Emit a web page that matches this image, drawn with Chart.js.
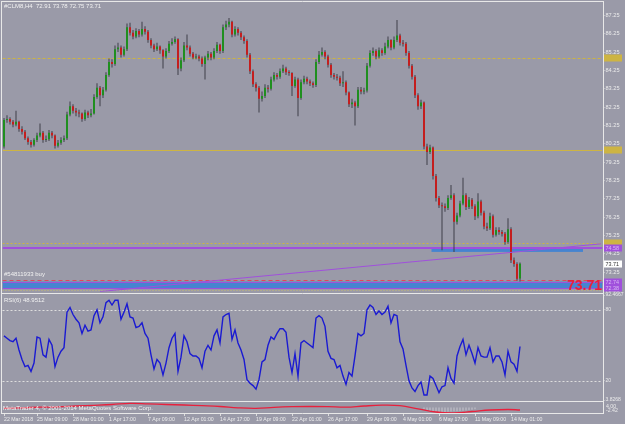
<!DOCTYPE html>
<html><head><meta charset="utf-8">
<script src="https://cdn.jsdelivr.net/npm/chart.js@4.4.1/dist/chart.umd.min.js"></script>
<style>
html,body{margin:0;padding:0;}
body{width:625px;height:424px;overflow:hidden;position:relative;background:#9a9aa8;font-family:"Liberation Sans",Arial,sans-serif;}
canvas{position:absolute;left:0;}
.lbl{position:absolute;color:#f2f2f2;font-size:6px;line-height:6px;white-space:pre;}
</style></head><body>
<canvas id="cPrice" width="625" height="296" style="top:0"></canvas>
<canvas id="cRsi" width="625" height="116" style="top:288px"></canvas>
<canvas id="cOsc" width="625" height="24" style="top:400px"></canvas>
<div class="lbl" style="left:4px;top:3px">#CLM8,H4  72.91 73.78 72.75 73.71</div>
<div class="lbl" style="left:4px;top:271px">#54811933 buy</div>
<div class="lbl" style="left:4px;top:297px">RSI(6) 48.9512</div>
<div class="lbl" style="left:3px;top:405px">MetaTrader 4, © 2001-2014 MetaQuotes Software Corp.</div>
<script>
// ---------- DATA ----------
const tickLabels = ['22 Mar 2018','25 Mar 09:00','28 Mar 01:00','1 Apr 17:00','7 Apr 09:00','12 Apr 01:00','14 Apr 17:00','19 Apr 09:00','22 Apr 01:00','26 Apr 17:00','29 Apr 09:00','4 May 01:00','6 May 17:00','11 May 09:00','14 May 01:00'];
const tickBars = [0,11,23,35,48,60,72,84,96,108,121,133,145,157,169];

const opens = [80.10,81.55,81.60,81.45,81.30,81.45,81.05,80.90,80.55,80.35,
80.20,80.45,80.70,80.85,80.45,80.50,80.85,80.70,80.15,80.30,
80.45,80.55,81.85,82.30,82.05,81.95,81.90,81.60,81.95,81.80,
81.90,82.80,83.30,82.90,83.20,84.00,84.70,84.60,85.40,85.50,
85.10,85.40,86.60,86.30,86.10,86.40,86.20,86.50,86.35,85.90,
85.60,85.40,85.55,85.35,85.00,85.30,85.70,85.80,85.95,84.35,
84.80,85.60,85.50,85.15,84.95,85.00,84.90,84.60,84.95,85.15,
84.95,85.30,85.65,85.30,86.60,86.75,86.90,86.20,86.50,86.30,
86.05,85.85,85.10,84.20,83.50,83.30,82.70,82.85,83.30,83.25,
83.75,84.00,83.90,84.20,84.35,84.15,84.10,83.40,83.75,82.75,
83.60,83.80,83.65,83.55,83.45,84.70,85.10,85.25,85.00,84.55,
84.00,83.90,83.85,83.55,83.60,83.05,82.40,82.50,82.30,83.20,
83.10,83.15,84.50,85.20,85.30,85.00,85.35,85.20,85.55,85.90,
85.50,85.90,86.15,85.75,85.70,85.20,84.50,83.90,82.90,82.30,
82.50,80.10,79.80,80.05,78.50,77.30,76.90,76.85,76.75,77.30,
77.45,76.00,76.35,77.00,77.45,76.80,77.20,76.85,76.30,77.10,
76.50,75.75,75.65,76.30,75.30,75.55,75.45,75.35,74.90,75.60,
73.90,73.70,72.91];

const closes = [81.55,81.60,81.45,81.30,81.45,81.05,80.90,80.55,80.35,80.20,
80.45,80.70,80.85,80.45,80.50,80.85,80.70,80.15,80.30,80.45,
80.55,81.85,82.30,82.05,81.95,81.90,81.60,81.95,81.80,81.90,
82.80,83.30,82.90,83.20,84.00,84.70,84.60,85.40,85.50,85.10,
85.40,86.60,86.30,86.10,86.40,86.20,86.50,86.35,85.90,85.60,
85.40,85.55,85.35,85.00,85.30,85.70,85.80,85.95,84.35,84.80,
85.60,85.50,85.15,84.95,85.00,84.90,84.60,84.95,85.15,84.95,
85.30,85.65,85.30,86.60,86.75,86.90,86.20,86.50,86.30,86.05,
85.85,85.10,84.20,83.50,83.30,82.70,82.85,83.30,83.25,83.75,
84.00,83.90,84.20,84.35,84.15,84.10,83.40,83.75,82.75,83.60,
83.80,83.65,83.55,83.45,84.70,85.10,85.25,85.00,84.55,84.00,
83.90,83.85,83.55,83.60,83.05,82.40,82.50,82.30,83.20,83.10,
83.15,84.50,85.20,85.30,85.00,85.35,85.20,85.55,85.90,85.50,
85.90,86.15,85.75,85.70,85.20,84.50,83.90,82.90,82.30,82.50,
80.10,79.80,80.05,78.50,77.30,76.90,76.85,76.75,77.30,77.45,
76.00,76.35,77.00,77.45,76.80,77.20,76.85,76.30,77.10,76.50,
75.75,75.65,76.30,75.30,75.55,75.45,75.35,74.90,75.60,73.90,
73.70,72.90,73.71];

const highs = [81.65,81.80,81.70,81.55,82.05,81.50,81.20,81.00,80.65,80.45,
80.55,80.85,81.35,80.95,80.70,81.00,80.95,80.75,80.45,80.60,
80.70,82.00,82.55,82.40,82.20,82.10,81.95,82.10,82.05,82.15,
82.95,83.55,83.40,83.35,84.15,84.90,84.85,85.60,85.75,85.60,
85.55,86.80,86.85,86.45,86.55,86.50,86.90,86.65,86.45,86.00,
85.70,85.75,85.60,85.40,85.45,85.85,86.00,86.10,86.00,84.95,
85.80,86.20,85.60,85.25,85.15,85.10,85.00,85.05,85.30,85.25,
85.45,85.80,85.70,86.75,86.95,87.10,86.95,86.65,86.60,86.40,
86.15,85.95,85.20,84.30,83.60,83.40,83.10,83.50,83.45,83.90,
84.15,84.10,84.35,84.55,84.45,84.25,84.15,83.90,83.85,83.75,
83.95,83.90,83.75,83.65,84.85,85.30,85.50,85.35,85.10,84.65,
84.10,84.05,83.95,84.20,83.70,83.10,82.70,82.60,83.35,83.35,
83.30,84.65,85.35,85.50,85.40,85.50,85.45,85.75,86.10,85.95,
86.10,87.00,86.25,85.90,85.80,85.30,84.60,84.00,83.00,82.65,
82.55,80.25,80.20,80.10,78.60,77.40,77.05,77.00,77.45,78.00,
77.55,76.50,77.15,78.40,77.55,77.35,77.30,76.95,77.55,77.20,
76.60,75.95,76.50,76.40,75.70,75.70,75.55,75.45,76.20,75.70,
74.05,73.80,73.78];

const lows = [80.00,81.40,81.30,81.15,81.20,80.90,80.75,80.45,80.20,80.05,
80.10,80.35,80.60,80.30,80.35,80.40,80.55,80.00,80.05,80.20,
80.35,80.45,81.75,81.90,81.75,81.70,81.45,81.50,81.65,81.70,
81.85,82.70,82.30,82.75,83.10,83.90,84.40,84.50,85.25,84.95,
85.00,85.30,86.15,85.95,86.00,86.05,86.10,86.20,85.75,85.45,
85.25,85.30,85.15,84.35,84.90,85.20,85.60,85.70,84.00,84.20,
84.70,85.35,85.00,84.85,84.85,84.75,84.45,83.75,84.80,84.80,
84.85,85.20,85.15,85.20,86.45,86.60,86.05,86.10,86.15,85.90,
85.70,84.95,84.05,83.35,83.10,81.95,82.55,82.75,83.05,83.15,
83.65,83.75,83.80,84.10,84.00,83.95,82.85,83.30,81.75,82.65,
83.50,83.50,83.40,83.30,83.35,84.60,85.00,84.85,84.40,83.85,
83.75,83.70,83.40,83.35,82.90,82.25,82.20,81.25,82.20,82.95,
82.95,83.05,84.40,85.05,84.85,84.90,85.05,85.10,85.45,85.35,
85.40,85.80,85.60,85.55,85.05,84.35,83.75,82.75,82.10,82.15,
79.95,79.10,79.70,78.30,77.10,76.75,74.45,76.55,76.65,77.20,
74.35,75.85,76.25,76.90,76.65,76.70,76.70,76.10,76.20,76.35,
75.60,75.50,75.55,75.15,75.20,75.30,75.20,74.75,74.80,73.75,
73.55,72.80,72.75];

const rsi = [58,56,54,53,56,46,38,32,33,28,
35,57,56,42,40,55,50,32,40,45,
48,78,82,76,72,69,60,67,62,63,
75,80,69,74,86,88,84,88,88,72,
78,85,74,73,65,66,69,60,56,42,
30,38,35,25,35,48,56,60,28,40,
58,53,43,41,41,39,31,45,50,46,
58,63,52,74,76,77,55,63,52,46,
38,21,18,16,13,21,36,38,50,57,
55,60,64,64,61,40,27,43,24,52,
54,52,50,48,73,75,73,66,45,39,
38,31,33,24,17,27,24,41,60,58,
60,80,84,82,76,79,76,78,83,69,
76,75,53,47,33,20,14,11,16,19,
8,8,24,22,16,10,15,16,31,22,
18,41,49,55,42,50,43,35,48,41,
40,40,48,36,41,41,36,25,45,36,
34,28,49];

const priceTicks = [87.25,86.25,85.25,84.25,83.25,82.25,81.25,80.25,79.25,78.25,77.25,76.25,75.25,74.25,73.25,72.25];
const rsiTicks = [92.4667, 80, 20, 3.8268];
const rsiLevels = [80, 20];

// chart objects (price levels)
const yellowDashed = 84.90, yellowSolid = 79.90, yellowDotted = 74.85, purpleLevel = 74.58;
const orderPrice = 72.85, bandTop = 72.74, bandBottom = 72.38, bottomDotted = 72.27;
const rectBars = [142.5, 193], rectPrices = [74.56, 74.36];
const trendBars = [32, 199], trendPrices = [72.20, 74.80];

// lower oscillator panel
const oscBars = [0,6,12,18,24,30,36,42,48,54,60,66,72,78,84,90,96,102,108,114,120,126,132,138,144,150,156,162,168,172];
const oscValues = [-0.44,-0.16,0.16,0.38,0.82,1.2,1.64,2.29,2.02,1.64,1.36,0.98,0.55,-0.16,-0.44,0.11,0.44,0.55,0.44,0.16,0.82,1.25,0.98,-0.71,-2.45,-2.9,-2.18,-1.36,-1.09,-1.36];
const histBars = [140,141,142,143,144,145,146,147,148,149,150,151,152,153,154,155,156,157];
const histValues = [-0.8,-1.4,-1.8,-2.1,-2.3,-2.4,-2.4,-2.4,-2.3,-2.2,-2.1,-2.0,-1.9,-1.8,-1.6,-1.4,-1.2,-1.0];
const oscLabels = ['4.00', '-2.42'];

// ---------- STYLE ----------
const SLOTS = 200;
const GREEN = '#1f8f1f', RED = '#c41e1e', WICK = '#3e3e48';
const YELLOW = '#cdb443', PURPLE = '#a050dc', BLUE = '#4684d0', REDDASH = '#e04858';
const FRAME = '#e8e8e8', TXT = '#ececec', RSIBLUE = '#1a1ad2', OSCRED = '#e8203c';
const FONT = '"Liberation Sans", Arial, sans-serif';
Chart.defaults.font.family = FONT;
Chart.defaults.color = TXT;

const N = closes.length;
const cats = Array.from({length: SLOTS}, (_, i) => { const k = tickBars.indexOf(i); return k >= 0 ? tickLabels[k] : ''; });
const fullArr = (bars, vals) => { const a = new Array(SLOTS).fill(null); bars.forEach((b, k) => a[b] = vals[k]); return a; };
const base = { responsive: false, animation: false, events: [], plugins: { legend: { display: false }, tooltip: { enabled: false } } };

function hline(ctx, a, y, color, width, dash) {
  ctx.save(); ctx.strokeStyle = color; ctx.lineWidth = width; ctx.setLineDash(dash || []);
  const yy = Math.round(y) + (width % 2 === 1 ? 0.5 : 0);
  ctx.beginPath(); ctx.moveTo(a.left, yy); ctx.lineTo(a.right, yy); ctx.stroke(); ctx.restore();
}
function seg(ctx, x1, y1, x2, y2) { ctx.beginPath(); ctx.moveTo(x1, y1); ctx.lineTo(x2, y2); ctx.stroke(); }

const pricePlugin = {
  id: 'priceDeco',
  beforeDatasetsDraw(chart) {
    const { ctx, chartArea: a, scales: { x, y } } = chart;
    ctx.save();
    ctx.beginPath(); ctx.rect(a.left, a.top, a.right - a.left, a.bottom - a.top); ctx.clip();
    ctx.fillStyle = BLUE;
    const b1 = y.getPixelForValue(bandTop), b2 = y.getPixelForValue(bandBottom);
    ctx.fillRect(a.left, b1, a.right - a.left, b2 - b1);
    const rx1 = x.getPixelForValue(rectBars[0]), rx2 = x.getPixelForValue(rectBars[1]);
    const ry1 = y.getPixelForValue(rectPrices[0]), ry2 = y.getPixelForValue(rectPrices[1]);
    ctx.fillRect(rx1, ry1, rx2 - rx1, ry2 - ry1);
    hline(ctx, a, y.getPixelForValue(yellowDashed), YELLOW, 1, [3, 2]);
    hline(ctx, a, y.getPixelForValue(yellowSolid), YELLOW, 1, []);
    hline(ctx, a, y.getPixelForValue(yellowDotted), YELLOW, 1, [2, 2]);
    hline(ctx, a, y.getPixelForValue(purpleLevel), PURPLE, 2, []);
    hline(ctx, a, y.getPixelForValue(orderPrice), REDDASH, 1, [4, 3]);
    hline(ctx, a, y.getPixelForValue(bandTop), PURPLE, 1, []);
    hline(ctx, a, y.getPixelForValue(bandBottom), PURPLE, 1, []);
    hline(ctx, a, y.getPixelForValue(bottomDotted), '#c8bc70', 1, [1, 2]);
    ctx.restore();
  },
  afterDraw(chart) {
    const { ctx, scales: { y } } = chart;
    ctx.save();
    ctx.strokeStyle = FRAME; ctx.lineWidth = 1;
    seg(ctx, 1, 1.5, 604, 1.5);
    seg(ctx, 1.5, 1, 1.5, 296);
    seg(ctx, 603.5, 1, 603.5, 296);
    const boxes = [
      [yellowDashed, YELLOW, '', ''],
      [yellowSolid, YELLOW, '', ''],
      [yellowDotted, YELLOW, '', ''],
      [purpleLevel, PURPLE, purpleLevel.toFixed(2), '#d8b8f4'],
      [closes[N - 1], '#ffffff', closes[N - 1].toFixed(2), '#333333'],
      [bandTop, PURPLE, bandTop.toFixed(2), '#d8b8f4'],
      [bandBottom, PURPLE, bandBottom.toFixed(2), '#d8b8f4']
    ];
    ctx.font = '5.4px ' + FONT; ctx.textBaseline = 'middle'; ctx.textAlign = 'left';
    boxes.forEach(([p, fill, t, tc]) => {
      const yy = Math.round(y.getPixelForValue(p));
      ctx.fillStyle = fill; ctx.fillRect(604, yy - 3.5, 18, 7);
      if (t) { ctx.fillStyle = tc; ctx.fillText(t, 605.5, yy + 0.5); }
    });
    ctx.font = 'bold 14px ' + FONT; ctx.fillStyle = '#e8203a'; ctx.textAlign = 'right'; ctx.textBaseline = 'alphabetic';
    ctx.fillText(closes[N - 1].toFixed(2), 602, 289.5);
    ctx.restore();
  }
};

new Chart(document.getElementById('cPrice'), {
  type: 'bar',
  data: { labels: cats, datasets: [
    { type: 'line', data: fullArr(trendBars, trendPrices), borderColor: PURPLE, borderWidth: 1, pointRadius: 0, spanGaps: true, order: 0 },
    { data: opens.map((o, i) => [o, closes[i]]), backgroundColor: closes.map((c, i) => c >= opens[i] ? GREEN : RED), barThickness: 2, grouped: false, minBarLength: 1, inflateAmount: 0, order: 1 },
    { data: lows.map((l, i) => [l, highs[i]]), backgroundColor: WICK, barThickness: 1, grouped: false, inflateAmount: 0, order: 2 }
  ] },
  options: { ...base,
    layout: { padding: { left: 2.5, top: 3, right: 0, bottom: 4 } },
    scales: {
      x: { display: false, offset: true },
      y: { position: 'right', min: 72.1958, max: 87.8457,
        afterFit(s) { s.width = 22.5; },
        afterBuildTicks(s) { s.ticks = priceTicks.map(v => ({ value: v })); },
        ticks: { font: { size: 5.6 }, color: TXT, padding: 1, callback: v => Number(v).toFixed(2) },
        grid: { drawOnChartArea: false, tickLength: 2, color: '#dcdcdc' }, border: { display: false } }
    } },
  plugins: [pricePlugin]
});

const rsiPlugin = {
  id: 'rsiDeco',
  beforeDatasetsDraw(chart) {
    const { ctx, chartArea: a, scales: { y } } = chart;
    rsiLevels.forEach(l => hline(ctx, a, y.getPixelForValue(l), '#dedede', 1, [2, 2]));
  },
  afterDraw(chart) {
    const { ctx } = chart;
    ctx.save(); ctx.strokeStyle = FRAME; ctx.lineWidth = 1;
    seg(ctx, 1, 5.5, 604, 5.5);
    seg(ctx, 1, 113.5, 604, 113.5);
    seg(ctx, 1.5, 0, 1.5, 116);
    seg(ctx, 603.5, 0, 603.5, 116);
    ctx.restore();
  }
};

new Chart(document.getElementById('cRsi'), {
  type: 'line',
  data: { labels: cats, datasets: [
    { data: rsi, borderColor: RSIBLUE, borderWidth: 1.4, pointRadius: 0, tension: 0 }
  ] },
  options: { ...base,
    layout: { padding: { left: 2.5, top: 7, right: 0, bottom: 2 } },
    scales: {
      x: { display: false, offset: true },
      y: { position: 'right', min: rsiTicks[3], max: rsiTicks[0],
        afterFit(s) { s.width = 22.5; },
        afterBuildTicks(s) { s.ticks = rsiTicks.map(v => ({ value: v })); },
        ticks: { font: { size: 5.0 }, color: TXT, padding: 1, callback: v => String(v) },
        grid: { drawOnChartArea: false, tickLength: 2, color: '#dcdcdc' }, border: { display: false } }
    } },
  plugins: [rsiPlugin]
});

const oscPlugin = {
  id: 'oscDeco',
  afterDraw(chart) {
    const { ctx } = chart;
    ctx.save(); ctx.strokeStyle = FRAME; ctx.lineWidth = 1;
    seg(ctx, 1, 1.5, 604, 1.5);
    seg(ctx, 1, 13.5, 604, 13.5);
    seg(ctx, 1.5, 0, 1.5, 14);
    seg(ctx, 603.5, 0, 603.5, 14);
    ctx.font = '5.2px ' + FONT; ctx.fillStyle = TXT; ctx.textAlign = 'left'; ctx.textBaseline = 'middle';
    ctx.fillText(oscLabels[0], 606, 6.5);
    ctx.fillText(oscLabels[1], 606, 10.5);
    ctx.restore();
  }
};

new Chart(document.getElementById('cOsc'), {
  type: 'line',
  data: { labels: cats, datasets: [
    { data: fullArr(oscBars, oscValues), borderColor: OSCRED, borderWidth: 1.3, pointRadius: 0, spanGaps: true, tension: 0.4, order: 0 },
    { type: 'bar', data: fullArr(histBars, histValues), backgroundColor: '#c6c6ce', barThickness: 1, inflateAmount: 0, order: 1 }
  ] },
  options: { ...base,
    layout: { padding: { left: 2.5, top: 2, right: 22.5, bottom: 0 } },
    scales: {
      x: { offset: true,
        afterFit(s) { s.height = 11; },
        afterBuildTicks(s) { s.ticks = tickBars.map(v => ({ value: v })); },
        ticks: { autoSkip: false, maxRotation: 0, minRotation: 0, align: 'start', padding: 0, font: { size: 5.2 }, color: TXT },
        grid: { offset: false, drawOnChartArea: false, tickLength: 3, color: '#dcdcdc' }, border: { display: false } },
      y: { display: false, min: -3, max: 3 }
    } },
  plugins: [oscPlugin]
});
</script>
</body></html>
